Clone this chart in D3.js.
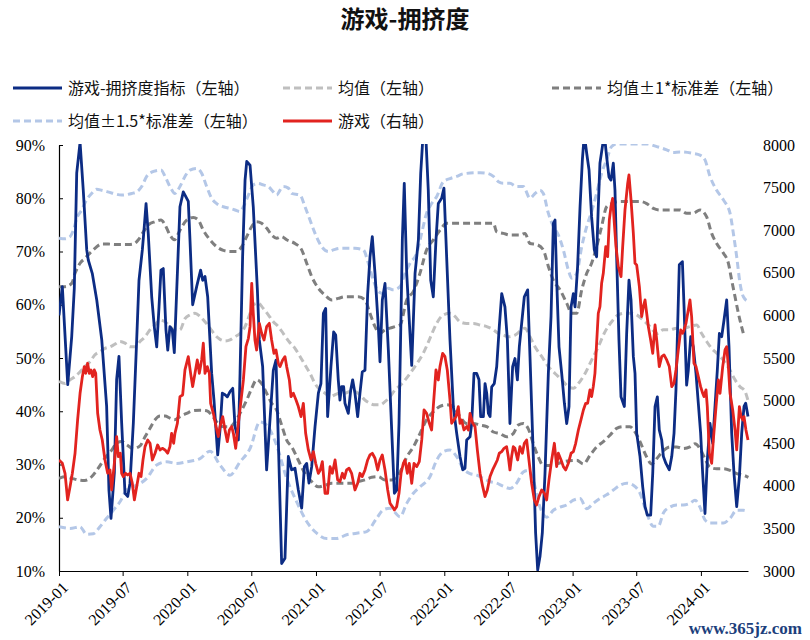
<!DOCTYPE html>
<html>
<head>
<meta charset="utf-8">
<script src="https://cdn.jsdelivr.net/npm/d3@7"></script>
<style>
  body { margin: 0; background: #fff; }
  svg text { font-family: "Liberation Serif", "Times New Roman", serif; }
</style>
</head>
<body>
<svg id="chart" width="810" height="640"></svg>
<script>
// ── Datos ────────────────────────────────────────────────────────
// Cada punto: [años desde 2019-01-01, valor]
const START = new Date(2019, 0, 1);
const LEFT_TICKS  = [10, 20, 30, 40, 50, 60, 70, 80, 90];
const RIGHT_TICKS = [3000, 3500, 4000, 4500, 5000, 5500, 6000, 6500, 7000, 7500, 8000];

// 游戏-拥挤度指标 (%)
const crowding = [
  [0.000,58],[0.026,63.4],[0.068,45],[0.099,54],[0.119,63],[0.138,84.7],[0.164,90.5],[0.189,81.5],
  [0.216,70.3],[0.228,68.4],[0.259,65.9],[0.294,60.9],[0.333,53.4],[0.371,40.9],[0.389,25.2],[0.405,19.9],
  [0.431,28.4],[0.449,46],[0.467,50.3],[0.488,37.8],[0.514,24.6],[0.535,24],[0.553,26.5],[0.579,37.8],
  [0.605,53.4],[0.623,64.6],[0.649,70.3],[0.662,74],[0.678,79],[0.695,73.4],[0.722,61.5],[0.742,55.9],
  [0.761,52.1],[0.779,59.6],[0.794,66.5],[0.812,66.8],[0.833,55.3],[0.847,51.5],[0.864,55.9],[0.882,55.3],
  [0.898,51],[0.942,78.4],[0.968,81.2],[1.007,79.4],[1.020,72.2],[1.041,60],[1.072,63.4],[1.103,66.5],
  [1.119,64.6],[1.137,65.3],[1.158,61.5],[1.189,47.1],[1.207,42.1],[1.236,31.8],[1.254,36.5],[1.272,43.4],
  [1.293,43.1],[1.311,42.7],[1.332,43.7],[1.353,44.3],[1.371,37.1],[1.397,34.6],[1.410,47.1],[1.430,69],
  [1.449,83.4],[1.462,86.9],[1.488,86.2],[1.513,78.4],[1.545,62.8],[1.560,53.4],[1.586,48.4],[1.617,29],
  [1.638,36.5],[1.669,47.7],[1.690,49.6],[1.708,34.6],[1.734,11.4],[1.760,12.4],[1.786,31.5],[1.812,29],
  [1.838,29.3],[1.864,25.2],[1.890,21.8],[1.911,29.6],[1.929,30.2],[1.947,26.5],[1.968,29.6],[1.994,37.1],
  [2.020,43.4],[2.040,45.2],[2.059,58.4],[2.077,59.3],[2.092,39],[2.118,48.4],[2.139,54.9],[2.155,54.3],
  [2.175,45.9],[2.188,42.1],[2.201,44.6],[2.217,44.6],[2.227,41.5],[2.253,39.6],[2.272,44],[2.287,45.9],
  [2.305,43.4],[2.326,39],[2.344,43.4],[2.362,47.4],[2.383,47.7],[2.404,62.1],[2.422,69],[2.440,72.8],
  [2.461,65.9],[2.487,55.9],[2.500,49.3],[2.518,60.9],[2.539,64],[2.565,51.5],[2.591,36.5],[2.612,24.6],
  [2.630,25.2],[2.648,37.7],[2.664,58.4],[2.674,72.2],[2.689,82.8],[2.708,65.9],[2.747,48.6],[2.773,65.9],
  [2.799,72.2],[2.817,84.7],[2.838,93],[2.858,91],[2.876,81.5],[2.895,64.6],[2.915,61.5],[2.936,72.2],
  [2.954,79],[2.980,80],[2.998,81.9],[3.019,69],[3.045,53.4],[3.071,40.9],[3.097,35.9],[3.123,31.5],
  [3.144,29],[3.162,29.3],[3.175,34.6],[3.201,35.2],[3.214,37.7],[3.232,47.1],[3.253,47.1],[3.271,45.9],
  [3.284,39],[3.305,39],[3.318,45.2],[3.331,43.4],[3.344,39.6],[3.357,39],[3.370,44.6],[3.390,45.2],
  [3.409,48.4],[3.429,55.9],[3.448,62.1],[3.473,59.6],[3.492,53.4],[3.512,37.7],[3.533,48.4],[3.551,49.9],
  [3.570,45.9],[3.585,52.1],[3.624,61.5],[3.650,62.8],[3.668,50.3],[3.694,31.5],[3.712,17.1],[3.728,10.2],
  [3.746,12.7],[3.764,17.1],[3.785,28.3],[3.811,47.1],[3.832,57.8],[3.850,75.3],[3.863,75.9],[3.876,64.6],
  [3.894,52.1],[3.915,47.1],[3.936,41.5],[3.954,37.7],[3.972,40.9],[3.988,59.6],[4.006,62.1],[4.019,59.6],
  [4.039,67.2],[4.058,78.4],[4.076,87.2],[4.091,92],[4.110,88.4],[4.128,85.3],[4.148,76.5],[4.169,70.3],
  [4.187,69],[4.200,78.4],[4.213,86.6],[4.232,89.7],[4.247,92],[4.265,87.8],[4.283,84],[4.299,83.4],
  [4.317,86.6],[4.330,81.5],[4.343,69],[4.361,53.4],[4.377,42.7],[4.403,40.9],[4.421,54.6],[4.439,64.6],
  [4.455,60.9],[4.473,50.3],[4.486,47.1],[4.499,35.9],[4.525,31.5],[4.546,25.8],[4.564,22.1],[4.582,20.5],
  [4.608,20.5],[4.624,28.3],[4.642,40.9],[4.660,42.7],[4.675,36.5],[4.694,34.6],[4.707,31.5],[4.727,30.2],
  [4.753,29],[4.772,31.5],[4.790,35.9],[4.805,44],[4.818,55.9],[4.831,67.5],[4.855,68.1],[4.868,59.6],
  [4.888,44.9],[4.901,47.7],[4.920,54],[4.940,52.1],[4.961,47.1],[4.979,41.5],[4.997,35.9],[5.013,28.3],
  [5.031,20.8],[5.049,30.8],[5.070,37.7],[5.091,34],[5.109,40.9],[5.127,47.7],[5.143,54.6],[5.161,54],
  [5.179,57.1],[5.200,60.9],[5.218,52.1],[5.239,35.9],[5.257,28.3],[5.278,22.1],[5.299,27.7],[5.317,35.9],
  [5.335,40.9],[5.348,41.5],[5.366,39]
];

// 均值 (%)
const meanLine = [
  [0.000,45.6],[0.047,45.2],[0.086,45.9],[0.125,46.5],[0.164,47.4],[0.202,48.4],[0.241,49.3],[0.280,50.6],
  [0.319,51.2],[0.358,51.8],[0.397,52.1],[0.436,52.6],[0.475,53.1],[0.514,52.8],[0.553,52.1],[0.592,52.1],
  [0.631,53.1],[0.670,54],[0.709,55.3],[0.748,56.2],[0.787,57.1],[0.826,56.8],[0.864,55.9],[0.898,55.3],
  [0.942,55.3],[0.981,57.4],[1.020,58.1],[1.059,58.4],[1.098,57.8],[1.137,56.8],[1.176,55.6],[1.215,54.3],
  [1.254,53.5],[1.293,53.2],[1.332,53.4],[1.371,54],[1.410,54.6],[1.449,55.9],[1.488,58.4],[1.513,60],
  [1.552,60.3],[1.591,59.3],[1.630,58.1],[1.669,56.8],[1.708,55.9],[1.747,54.6],[1.794,53],[1.838,51.8],
  [1.877,50.3],[1.916,48.7],[1.955,47.1],[1.994,45.2],[2.033,44],[2.072,43.4],[2.111,42.7],[2.150,43.1],
  [2.188,43.4],[2.227,43.4],[2.266,43.7],[2.305,43.7],[2.344,43.1],[2.383,42.1],[2.422,41.5],[2.461,41.2],
  [2.500,41.2],[2.539,41.8],[2.578,42.7],[2.617,44],[2.656,44.8],[2.734,47.1],[2.786,48.9],[2.837,50.9],
  [2.889,53.7],[2.941,56.5],[2.993,58.1],[3.045,58.4],[3.084,57.8],[3.123,56.8],[3.175,56.5],[3.227,56.5],
  [3.279,56.2],[3.331,55.9],[3.383,55.3],[3.422,54.6],[3.461,54.3],[3.499,54],[3.551,54.3],[3.629,55.6],
  [3.668,54],[3.707,52.1],[3.759,50.3],[3.811,48.4],[3.863,47.1],[3.915,45.9],[3.967,44.6],[4.006,44.3],
  [4.045,45.2],[4.097,47.1],[4.148,49.6],[4.200,52.1],[4.252,54.9],[4.304,56.8],[4.356,58.1],[4.408,58.4],
  [4.460,58.4],[4.499,58.1],[4.551,57.1],[4.603,55.9],[4.655,54.6],[4.707,55.3],[4.758,55.3],[4.810,55.6],
  [4.862,55.6],[4.914,55.9],[4.966,56.2],[5.005,54.6],[5.044,53.1],[5.083,51.8],[5.122,50.9],[5.174,49.6],
  [5.226,47.7],[5.265,45.9],[5.304,44.6],[5.343,43.7],[5.366,42]
];

// 均值 + 1*标准差 (%)
const upper1 = [
  [0.000,63.4],[0.047,63.4],[0.099,64],[0.125,65.9],[0.164,67.8],[0.202,68.7],[0.241,69.7],[0.280,70.6],
  [0.332,71.4],[0.384,71.4],[0.436,71.3],[0.488,71.3],[0.540,71.3],[0.579,71.4],[0.618,72.2],[0.657,73.7],
  [0.696,75],[0.748,75.6],[0.794,75.9],[0.826,75],[0.864,73.1],[0.898,72.2],[0.942,74],[0.994,75.9],
  [1.046,76.4],[1.085,75.9],[1.124,74],[1.176,72.2],[1.228,70.9],[1.280,70.2],[1.332,70],[1.384,70],
  [1.423,70.9],[1.462,72.8],[1.501,74.7],[1.539,75.6],[1.578,75.3],[1.617,74.4],[1.656,73.1],[1.695,72.5],
  [1.734,72.8],[1.773,72.2],[1.838,71.5],[1.890,70.3],[1.929,67.8],[1.968,65.3],[2.020,63.1],[2.072,61.8],
  [2.124,60.9],[2.175,61.2],[2.227,61.5],[2.279,61.5],[2.331,61.5],[2.383,60.9],[2.422,58.4],[2.461,55.9],
  [2.500,54.6],[2.539,55.3],[2.578,55.6],[2.617,55.9],[2.656,56.2],[2.708,60.9],[2.760,62.5],[2.811,65.9],
  [2.863,70.3],[2.915,72.2],[2.967,74],[3.019,75.3],[3.149,75.3],[3.305,75.3],[3.383,75.3],[3.409,73.7],
  [3.461,73.4],[3.512,73.1],[3.590,73.1],[3.629,73.4],[3.668,71.5],[3.720,71.3],[3.772,70.3],[3.811,67.2],
  [3.850,64.6],[3.902,62.8],[3.954,60.3],[3.993,58.4],[4.032,58.4],[4.071,62.8],[4.110,65.9],[4.148,67.8],
  [4.187,70.9],[4.226,74.7],[4.265,78.4],[4.304,79],[4.369,79.4],[4.447,79.4],[4.525,79.4],[4.577,79],
  [4.629,78.1],[4.681,77.8],[4.836,77.8],[4.888,77.2],[4.940,77.2],[4.992,77.8],[5.044,76.5],[5.083,73.4],
  [5.122,71.5],[5.174,69.7],[5.213,67.8],[5.239,64.6],[5.265,61.5],[5.291,58.4],[5.330,54.6]
];

// 均值 - 1*标准差 (%)
const lower1 = [
  [0.000,27.4],[0.047,27.7],[0.099,27.4],[0.151,27.1],[0.202,27],[0.254,27.7],[0.306,29.3],[0.358,31.2],
  [0.410,32.7],[0.449,34],[0.488,34.3],[0.527,33.7],[0.579,33],[0.631,33.5],[0.670,35.2],[0.709,36.8],
  [0.748,38.4],[0.787,39.1],[0.826,39.1],[0.864,38.7],[0.898,38.4],[0.942,39],[0.994,39.6],[1.046,40.1],
  [1.098,40.2],[1.150,40.1],[1.189,39.3],[1.228,38],[1.280,37.1],[1.332,37.1],[1.371,38],[1.410,39.6],
  [1.462,42.1],[1.501,44.3],[1.539,45.9],[1.578,45.2],[1.617,43.4],[1.656,41.5],[1.695,40.2],[1.734,37.4],
  [1.773,34.6],[1.812,33.3],[1.864,30.8],[1.916,28.3],[1.968,26.8],[2.020,25.8],[2.072,26.1],[2.124,26.5],
  [2.279,26.5],[2.331,26.8],[2.383,27.1],[2.435,27.6],[2.487,27.7],[2.539,27.1],[2.591,27.1],[2.630,27.7],
  [2.656,28.6],[2.708,31.4],[2.760,33.3],[2.811,35.8],[2.863,38.4],[2.915,39.9],[2.967,40.9],[3.019,41.2],
  [3.071,40.9],[3.123,39],[3.175,37.7],[3.227,37.7],[3.279,37.4],[3.331,37.1],[3.383,36.1],[3.434,35.8],
  [3.486,35.2],[3.538,35.8],[3.577,37.4],[3.616,37.7],[3.655,36.7],[3.694,33.9],[3.733,31.4],[3.772,29.8],
  [3.824,29.8],[3.876,30.1],[3.928,30.5],[4.032,30.8],[4.084,30.1],[4.135,31.7],[4.187,33.3],[4.239,34.3],
  [4.291,35.5],[4.343,36.8],[4.395,37.1],[4.447,37.1],[4.486,36.1],[4.525,34.3],[4.577,31.4],[4.616,30.1],
  [4.655,31.1],[4.707,32.6],[4.758,33.3],[4.810,33.3],[4.862,33],[4.914,33.3],[4.953,33.9],[4.992,33],
  [5.031,31.1],[5.070,29.5],[5.122,29.2],[5.174,29.2],[5.226,28.9],[5.278,28.3],[5.330,28],[5.369,27.6]
];

// 均值 + 1.5*标准差 (%)
const upper15 = [
  [0.000,72.5],[0.047,72.4],[0.086,72.8],[0.112,74],[0.138,76.2],[0.177,77.8],[0.215,79.7],[0.254,80.9],
  [0.293,81.7],[0.332,81.5],[0.410,81],[0.488,80.6],[0.566,80.9],[0.605,81.2],[0.644,82.2],[0.683,84.1],
  [0.722,84.9],[0.761,85.2],[0.794,85.3],[0.826,84.1],[0.864,82.2],[0.903,80.9],[0.942,82.2],[0.981,84.1],
  [1.020,85.3],[1.072,85.6],[1.111,84.7],[1.150,82.2],[1.189,80],[1.228,79],[1.280,78.4],[1.332,78.1],
  [1.371,77.8],[1.410,77.5],[1.436,78.4],[1.475,80.6],[1.513,82.5],[1.552,82.8],[1.591,82.5],[1.630,82.2],
  [1.669,81.2],[1.695,80.6],[1.721,81.5],[1.747,82.2],[1.786,81.9],[1.812,80.9],[1.877,80.6],[1.916,78.4],
  [1.955,75.9],[1.994,73.4],[2.046,70.9],[2.098,70],[2.137,70.3],[2.188,70.6],[2.305,70.6],[2.370,70.3],
  [2.409,67.8],[2.448,64.6],[2.487,62.5],[2.526,62.1],[2.565,63.1],[2.604,62.8],[2.656,63.4],[2.695,65.9],
  [2.734,67.8],[2.786,69.7],[2.824,73.4],[2.863,77.2],[2.902,79],[2.941,80.3],[2.993,83.1],[3.045,83.7],
  [3.097,84.1],[3.149,84.6],[3.279,84.8],[3.331,84.7],[3.383,84.1],[3.422,83.1],[3.461,82.8],[3.512,82.8],
  [3.564,82.2],[3.616,82.2],[3.668,80],[3.707,80.9],[3.746,81.5],[3.772,80.9],[3.811,77.2],[3.850,74.7],
  [3.889,73.1],[3.928,70.3],[3.967,66.5],[3.993,65],[4.032,65.9],[4.071,70.9],[4.110,74.7],[4.148,77.5],
  [4.187,80.9],[4.226,84.7],[4.265,87.2],[4.304,89.7],[4.343,90.2],[4.577,90.2],[4.655,89.7],[4.733,89.1],
  [4.784,88.6],[4.836,88.7],[4.940,88.4],[4.992,88.1],[5.031,87.2],[5.070,84.1],[5.122,81.5],[5.174,79.7],
  [5.226,77.2],[5.252,73.4],[5.278,69],[5.304,64],[5.330,61.5],[5.369,60.6]
];

// 均值 - 1.5*标准差 (%)
const lower15 = [
  [0.000,18.3],[0.086,18],[0.164,18.3],[0.215,16.9],[0.267,17],[0.319,18.3],[0.371,19.9],[0.423,21.4],
  [0.475,23],[0.527,25.2],[0.579,25.8],[0.683,27.4],[0.761,29.9],[0.839,30.5],[0.916,30.2],[0.994,30.5],
  [1.098,31.1],[1.176,32.5],[1.254,29.9],[1.332,28],[1.410,30.5],[1.488,33],[1.565,38],[1.617,37.4],
  [1.695,33.6],[1.773,27.4],[1.851,23],[1.929,19.3],[2.007,17.1],[2.085,16.1],[2.163,16.1],[2.240,16.8],
  [2.318,17.1],[2.396,17.4],[2.474,19.9],[2.526,21.5],[2.578,21.8],[2.656,20.2],[2.708,22.7],[2.760,24.6],
  [2.811,25.8],[2.889,27.7],[2.941,30.8],[2.993,32.4],[3.045,32.7],[3.097,31.5],[3.149,29.2],[3.201,28.3],
  [3.253,28],[3.305,27.4],[3.357,26.8],[3.409,26.5],[3.461,25.9],[3.512,25.5],[3.564,26.5],[3.616,28.6],
  [3.655,28.9],[3.694,27],[3.746,22],[3.798,20.1],[3.850,21.4],[3.902,22],[3.954,22.4],[4.006,23.3],
  [4.058,23.6],[4.110,21.7],[4.161,22.7],[4.213,23.6],[4.265,24.3],[4.317,25.2],[4.369,26.1],[4.421,26.5],
  [4.473,26.1],[4.525,24.6],[4.577,20.9],[4.629,18.4],[4.668,18.4],[4.707,20.9],[4.758,22],[4.810,22.4],
  [4.862,22.4],[4.914,22.7],[4.953,23.3],[4.992,22],[5.031,19.6],[5.070,19],[5.174,19],[5.226,19.9],
  [5.278,21.4],[5.330,21.4],[5.369,21.1]
];

// 游戏 (右轴, 指数点位)
const gameIndex = [
  [0.000,4303],[0.026,4264],[0.047,4147],[0.067,3834],[0.086,3990],[0.104,4147],[0.125,4382],[0.145,4773],
  [0.164,5086],[0.182,5281],[0.197,5399],[0.208,5320],[0.223,5438],[0.236,5320],[0.249,5360],[0.262,5281],
  [0.275,5360],[0.286,5320],[0.301,4851],[0.319,4655],[0.337,4538],[0.358,4303],[0.379,4147],[0.397,4186],
  [0.410,3951],[0.431,4264],[0.449,4577],[0.462,4343],[0.478,4382],[0.488,4147],[0.501,4108],[0.519,4147],
  [0.535,4127],[0.553,4147],[0.571,4030],[0.587,3834],[0.605,3990],[0.623,4147],[0.639,4108],[0.654,4303],
  [0.670,4460],[0.691,4538],[0.709,4499],[0.727,4303],[0.748,4382],[0.768,4479],[0.787,4421],[0.805,4440],
  [0.826,4421],[0.846,4382],[0.864,4460],[0.877,4616],[0.893,4499],[0.903,4616],[0.922,4734],[0.942,5047],
  [0.963,5066],[0.981,5360],[1.007,5516],[1.025,5320],[1.041,5164],[1.059,5320],[1.077,5477],[1.093,5320],
  [1.111,5477],[1.124,5673],[1.137,5320],[1.155,5399],[1.171,5320],[1.181,4968],[1.202,4851],[1.223,4695],
  [1.241,4577],[1.254,4695],[1.275,4812],[1.293,4655],[1.311,4518],[1.327,4655],[1.345,4695],[1.358,4616],
  [1.376,4440],[1.397,4734],[1.415,4968],[1.436,5242],[1.456,5633],[1.475,5731],[1.488,5868],[1.501,6377],
  [1.513,6025],[1.526,5712],[1.539,5594],[1.560,5907],[1.578,5790],[1.597,5712],[1.617,5868],[1.638,5907],
  [1.656,5712],[1.674,5555],[1.690,5594],[1.708,5438],[1.721,5399],[1.742,5477],[1.760,5516],[1.773,5399],
  [1.794,5242],[1.807,5047],[1.825,5086],[1.846,5008],[1.864,4930],[1.885,4812],[1.903,4968],[1.921,4616],
  [1.942,4421],[1.963,4303],[1.981,4401],[1.999,4264],[2.020,4147],[2.035,4186],[2.051,4284],[2.072,3912],
  [2.092,3912],[2.111,4225],[2.129,4147],[2.150,4303],[2.170,4069],[2.188,4049],[2.207,4147],[2.222,4088],
  [2.240,4186],[2.259,4206],[2.279,4147],[2.305,3951],[2.326,4030],[2.344,4147],[2.362,4108],[2.383,4186],
  [2.404,4303],[2.422,4362],[2.440,4382],[2.461,4323],[2.482,4186],[2.500,4303],[2.518,4362],[2.539,4186],
  [2.560,3951],[2.578,3795],[2.596,3756],[2.612,3717],[2.630,3756],[2.648,3912],[2.664,4147],[2.682,4264],
  [2.695,4303],[2.713,4147],[2.728,4264],[2.747,4030],[2.765,4264],[2.786,4225],[2.806,4284],[2.825,4538],
  [2.843,4890],[2.863,4851],[2.884,4734],[2.902,4655],[2.915,4929],[2.936,5360],[2.954,5242],[2.967,5399],
  [2.988,5555],[3.006,5516],[3.024,5360],[3.045,5008],[3.058,4734],[3.076,4773],[3.092,4812],[3.110,4929],
  [3.123,4734],[3.136,4773],[3.154,4655],[3.175,4695],[3.188,4655],[3.201,4851],[3.222,4734],[3.240,4695],
  [3.258,4421],[3.279,4147],[3.300,3990],[3.318,3873],[3.336,3951],[3.357,4108],[3.377,4186],[3.396,4245],
  [3.414,4303],[3.429,4382],[3.448,4401],[3.466,4440],[3.486,4460],[3.499,4343],[3.512,4186],[3.525,4343],
  [3.538,4460],[3.551,4440],[3.572,4303],[3.590,4460],[3.609,4382],[3.624,4499],[3.642,4538],[3.660,4303],
  [3.681,4030],[3.702,3834],[3.720,3775],[3.738,3873],[3.759,3951],[3.780,3912],[3.798,3834],[3.816,4069],
  [3.837,4303],[3.858,4499],[3.876,4225],[3.889,4382],[3.910,4303],[3.928,4225],[3.946,4186],[3.967,4264],
  [3.988,4382],[4.006,4401],[4.024,4499],[4.045,4655],[4.065,4773],[4.084,4890],[4.102,4968],[4.117,4968],
  [4.135,5125],[4.148,5047],[4.161,5164],[4.174,5320],[4.187,5673],[4.200,6025],[4.213,6103],[4.226,6377],
  [4.239,6494],[4.258,6807],[4.273,6690],[4.286,7120],[4.299,7277],[4.312,7374],[4.325,7081],[4.338,6807],
  [4.356,6572],[4.377,6455],[4.390,6807],[4.408,7238],[4.429,7550],[4.439,7648],[4.455,7355],[4.473,6964],
  [4.486,6611],[4.499,6592],[4.520,6338],[4.538,5986],[4.551,6103],[4.564,6181],[4.577,6025],[4.590,5868],
  [4.608,5712],[4.624,5555],[4.642,5888],[4.655,5712],[4.675,5399],[4.694,5516],[4.712,5536],[4.733,5477],
  [4.753,5399],[4.772,5164],[4.790,5203],[4.805,5360],[4.823,5594],[4.842,5829],[4.857,5790],[4.868,5829],
  [4.883,5907],[4.901,6064],[4.914,6181],[4.927,5986],[4.945,5438],[4.961,5399],[4.979,5281],[4.997,5164],
  [5.013,5086],[5.023,5047],[5.039,5125],[5.049,4929],[5.065,4382],[5.083,4264],[5.096,4538],[5.117,4929],
  [5.135,5242],[5.148,5086],[5.169,5399],[5.187,5594],[5.200,5633],[5.213,5399],[5.226,5086],[5.247,4890],
  [5.265,4655],[5.278,4421],[5.299,4929],[5.312,4812],[5.325,4773],[5.335,4812],[5.350,4655],[5.366,4538]
];

// ── Estilo de series ─────────────────────────────────────────────
const C_BLUE = "#0c2c84", C_RED = "#e2231f";
const C_MEAN = "#bfbfbf", C_SD1 = "#7f7f7f", C_SD15 = "#b4c7e7";

const LEGEND = [
  { label: "游戏-拥挤度指标（左轴）",   color: C_BLUE, dash: null,  width: 3,   row: 0, col: 0 },
  { label: "均值（左轴）",             color: C_MEAN, dash: "7,4", width: 3,   row: 0, col: 1 },
  { label: "均值±1*标准差（左轴）",     color: C_SD1,  dash: "7,4", width: 3,   row: 0, col: 2 },
  { label: "均值±1.5*标准差（左轴）",   color: C_SD15, dash: "7,4", width: 3,   row: 1, col: 0 },
  { label: "游戏（右轴）",             color: C_RED,  dash: null,  width: 3,   row: 1, col: 1 }
];

// ── Escalas ──────────────────────────────────────────────────────
const W = 810, H = 640;
const M = { left: 59, right: 748, top: 145, bottom: 571 };
const toDate = t => new Date(START.getTime() + t * 365.25 * 864e5);

const lastT = d3.max(crowding, d => d[0]);
const x  = d3.scaleTime().domain([START, toDate(lastT)]).range([M.left, M.right]);
const yL = d3.scaleLinear().domain([10, 90]).range([M.bottom, M.top]);
const yR = d3.scaleLinear().domain([3000, 8000]).range([M.bottom, M.top]);

const svg = d3.select("#chart");

// ── Título ───────────────────────────────────────────────────────
svg.append("text")
  .attr("x", 405).attr("y", 28)
  .attr("text-anchor", "middle")
  .style("font-family", "'Noto Sans CJK SC', sans-serif")
  .style("font-weight", "700").style("font-size", "24px")
  .attr("fill", "#111")
  .text("游戏-拥挤度");

// ── Leyenda ──────────────────────────────────────────────────────
const colX = [13, 283, 552], rowY = [88, 121];
const lg = svg.append("g").selectAll("g").data(LEGEND).join("g")
  .attr("transform", d => `translate(${colX[d.col]},${rowY[d.row]})`);
lg.append("line")
  .attr("x1", 0).attr("x2", 49).attr("y1", 0).attr("y2", 0)
  .attr("stroke", d => d.color).attr("stroke-width", d => d.width)
  .attr("stroke-dasharray", d => d.dash);
lg.append("text")
  .attr("x", 55).attr("y", 0).attr("dy", "0.36em")
  .style("font-family", "'Noto Sans CJK SC', sans-serif")
  .style("font-size", "16px").attr("fill", "#111")
  .text(d => d.label);

// ── Ejes ─────────────────────────────────────────────────────────
const axisFont = g => g.selectAll("text")
  .style("font-family", "'Liberation Serif', serif")
  .style("font-size", "16px").attr("fill", "#000");

const xTicks = d3.timeMonth.every(6).range(START, toDate(lastT));
svg.append("g")
  .attr("transform", `translate(0,${M.bottom})`)
  .call(d3.axisBottom(x).tickValues(xTicks).tickFormat(d3.timeFormat("%Y-%m"))
    .tickSizeInner(5).tickSizeOuter(0))
  .call(g => g.select(".domain").attr("stroke", "#000").attr("stroke-width", 1.2))
  .call(g => g.selectAll(".tick line").attr("stroke", "#000"))
  .call(axisFont)
  .call(g => g.selectAll(".tick text")
    .attr("text-anchor", "end")
    .attr("transform", "translate(-4,4) rotate(-45)")
    .attr("dy", "0.7em").attr("dx", "0"));

svg.append("g")
  .attr("transform", `translate(${M.left},0)`)
  .call(d3.axisLeft(yL).tickValues(LEFT_TICKS).tickFormat(d => d + "%")
    .tickSizeInner(-4).tickSizeOuter(0).tickPadding(14))
  .call(g => g.select(".domain").attr("stroke", "#000").attr("stroke-width", 1.2))
  .call(g => g.selectAll(".tick line").attr("stroke", "#000"))
  .call(axisFont);

svg.append("g")
  .attr("transform", `translate(${M.right},0)`)
  .call(d3.axisRight(yR).tickValues(RIGHT_TICKS).tickFormat(d3.format("d"))
    .tickSize(0).tickPadding(15))
  .call(g => g.select(".domain").remove())
  .call(axisFont);

// ── Series ───────────────────────────────────────────────────────
svg.append("clipPath").attr("id", "plot-clip")
  .append("rect")
  .attr("x", M.left).attr("y", M.top - 1)
  .attr("width", M.right - M.left + 2).attr("height", M.bottom - M.top + 1);

const plot = svg.append("g").attr("clip-path", "url(#plot-clip)");

const lineL = d3.line().x(d => x(toDate(d[0]))).y(d => yL(d[1]));
const bandL = d3.line().x(d => x(toDate(d[0]))).y(d => yL(d[1])).curve(d3.curveMonotoneX);
const lineR = d3.line().x(d => x(toDate(d[0]))).y(d => yR(d[1]));

const bands = [
  { data: lower15, color: C_SD15 }, { data: upper15, color: C_SD15 },
  { data: lower1,  color: C_SD1 },  { data: upper1,  color: C_SD1 },
  { data: meanLine, color: C_MEAN }
];
plot.selectAll("path.band").data(bands).join("path")
  .attr("class", "band")
  .attr("d", d => bandL(d.data))
  .attr("fill", "none").attr("stroke", d => d.color)
  .attr("stroke-width", 3).attr("stroke-dasharray", "7,4");

plot.append("path").datum(crowding)
  .attr("d", lineL).attr("fill", "none")
  .attr("stroke", C_BLUE).attr("stroke-width", 2.8)
  .attr("stroke-linejoin", "round");

plot.append("path").datum(gameIndex)
  .attr("d", lineR).attr("fill", "none")
  .attr("stroke", C_RED).attr("stroke-width", 2.8)
  .attr("stroke-linejoin", "round");

// ── Marca de agua ────────────────────────────────────────────────
svg.append("text")
  .attr("x", 802).attr("y", 634)
  .attr("text-anchor", "end")
  .style("font-family", "'Liberation Serif', serif")
  .style("font-size", "17px").style("font-weight", "700")
  .attr("fill", "#1d3f7c")
  .text("www.365jz.com");
</script>
</body>
</html>
